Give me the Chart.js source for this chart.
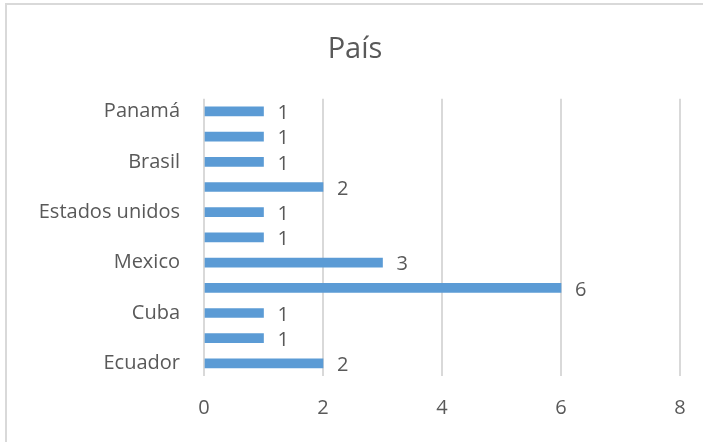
<!DOCTYPE html>
<html>
<head>
<meta charset="utf-8">
<script src="https://cdn.jsdelivr.net/npm/chart.js@4"></script>
<style>
  html, body { margin: 0; padding: 0; background: #fff; }
  #wrap { width: 703px; height: 442px; }
</style>
</head>
<body>
<div id="wrap"><canvas id="chart-1" width="703" height="442"></canvas></div>
<script>
// data, listed top to bottom as in the picture
var categories = ["Panamá", "", "Brasil", "", "Estados unidos", "", "Mexico", "", "Cuba", "", "Ecuador"];
var values = [1, 1, 1, 2, 1, 1, 3, 6, 1, 1, 2];
var xTicks = [0, 2, 4, 6, 8];

var textColor = "#595959";
var gridColor = "#d9d9d9";
var barColor = "#5b9bd5";
var fontFamily = "'Open Sans', Lato, sans-serif";

// value labels at the end of each bar
var barLabels = {
    id: "barLabels",
    afterDatasetsDraw: function (chart) {
        var ctx = chart.ctx;
        var meta = chart.getDatasetMeta(0);
        ctx.save();
        ctx.fillStyle = textColor;
        ctx.font = "20px " + fontFamily;
        ctx.textAlign = "left";
        ctx.textBaseline = "middle";
        meta.data.forEach(function (bar, i) {
            ctx.fillText(String(values[i]), bar.x + 14, bar.y + 2);
        });
        ctx.restore();
    }
};

// light frame along top and left edge
var frame = {
    id: "frame",
    beforeDraw: function (chart) {
        var ctx = chart.ctx;
        ctx.save();
        ctx.strokeStyle = gridColor;
        ctx.lineWidth = 2;
        ctx.beginPath();
        ctx.moveTo(6, 442);
        ctx.lineTo(6, 4);
        ctx.lineTo(703, 4);
        ctx.stroke();
        ctx.restore();
    }
};

var ctx_1 = document.getElementById("chart-1");
var myChart = new Chart(ctx_1, {
    type: "bar",
    data: {
        labels: categories,
        datasets: [{
            data: values,
            backgroundColor: barColor,
            borderWidth: 0,
            barThickness: 9
        }]
    },
    plugins: [frame, barLabels],
    options: {
        indexAxis: "y",
        responsive: false,
        animation: false,
        layout: {
            padding: { top: 5, right: 23, bottom: 0, left: 30 }
        },
        plugins: {
            legend: { display: false },
            tooltip: { enabled: false },
            title: {
                display: true,
                text: "País",
                color: textColor,
                font: { family: fontFamily, size: 29, weight: "normal" },
                padding: { top: 27, bottom: 32 }
            }
        },
        scales: {
            x: {
                min: 0,
                max: 8,
                afterBuildTicks: function (scale) {
                    scale.ticks = xTicks.map(function (v) { return { value: v }; });
                },
                afterFit: function (scale) {
                    scale.height = 66;
                    scale.paddingLeft = 0;
                    scale.paddingRight = 0;
                },
                grid: { color: gridColor, lineWidth: 2, drawTicks: false },
                border: { display: false },
                ticks: {
                    color: textColor,
                    padding: 20,
                    font: { family: fontFamily, size: 20 }
                }
            },
            y: {
                offset: true,
                afterFit: function (scale) { scale.width = 174; },
                grid: { display: false, drawTicks: false },
                border: { display: false },
                ticks: {
                    color: textColor,
                    padding: 24,
                    autoSkip: false,
                    font: { family: fontFamily, size: 20 }
                }
            }
        }
    }
});
</script>
</body>
</html>
